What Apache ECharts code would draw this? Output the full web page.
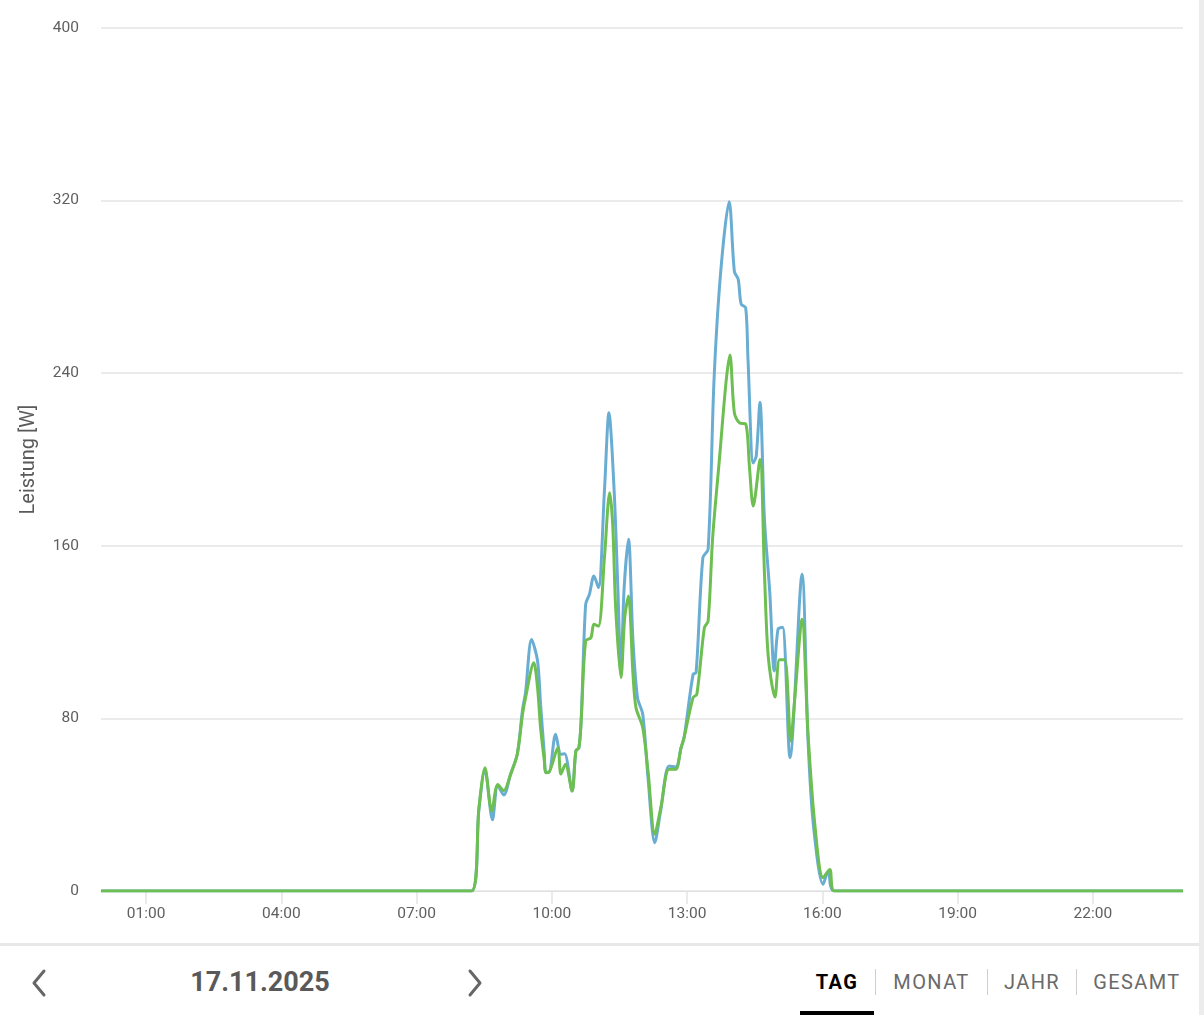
<!DOCTYPE html>
<html>
<head>
<meta charset="utf-8">
<script src="https://cdn.jsdelivr.net/npm/echarts@6/dist/echarts.min.js"></script>
<style>
  html, body { margin: 0; padding: 0; background: #fff; width: 1204px; height: 1015px; overflow: hidden; font-family: Roboto, "Noto Sans", sans-serif; }
  #chart { position: absolute; left: 0; top: 0; width: 1199px; height: 943px; }
  #sep { position: absolute; left: 0; top: 943px; width: 1199px; height: 3px; background: #e8e8e8; }
  #scroll { position: absolute; left: 1199px; top: 0; width: 5px; height: 1015px; background: #ececec; }
  .chev { position: absolute; top: 968px; width: 20px; height: 30px; }
  #date { position: absolute; left: 160px; width: 200px; top: 964px; text-align: center; font-size: 27px; font-weight: bold; color: #595959; line-height: 36px; }
  .tab { position: absolute; top: 968px; text-align: center; font-size: 20px; letter-spacing: 1.4px; color: #6a6a6a; line-height: 28px; }
  .tab.active { color: #000; font-weight: bold; }
  .vsep { position: absolute; top: 969px; width: 1px; height: 26px; background: #cfcfcf; }
  #under { position: absolute; left: 800px; top: 1011px; width: 74px; height: 4px; background: #000; }
</style>
</head>
<body>
<div id="chart"></div>
<div id="sep"></div>
<div id="scroll"></div>
<svg class="chev" style="left:30px" viewBox="0 0 20 30"><polyline points="14,3 4,15 14,27" fill="none" stroke="#666" stroke-width="3" stroke-linecap="round" stroke-linejoin="round"/></svg>
<div id="date">17.11.2025</div>
<svg class="chev" style="left:466px" viewBox="0 0 20 30"><polyline points="4,3 14,15 4,27" fill="none" stroke="#666" stroke-width="3" stroke-linecap="round" stroke-linejoin="round"/></svg>
<div class="tab active" style="left:800px;width:74px">TAG</div>
<div class="vsep" style="left:875px"></div>
<div class="tab" style="left:876px;width:111px">MONAT</div>
<div class="vsep" style="left:987px"></div>
<div class="tab" style="left:988px;width:88px">JAHR</div>
<div class="vsep" style="left:1076px"></div>
<div class="tab" style="left:1077px;width:120px">GESAMT</div>
<div id="under"></div>
<script>
// ---- data ----
const xTickLabels = ["01:00", "04:00", "07:00", "10:00", "13:00", "16:00", "19:00", "22:00"];
const yTicks = [0, 80, 160, 240, 320, 400];

const blueTimes = ["00:00","08:13","08:23","08:31","08:41","08:48","08:56","09:05","09:14","09:21","09:25","09:33","09:41","09:45","09:50","09:52","09:56","10:05","10:12","10:17","10:27","10:32","10:36","10:39","10:45","10:50","10:56","11:02","11:10","11:16","11:23","11:28","11:32","11:36","11:42","11:48","11:54","12:01","12:08","12:17","12:25","12:36","12:45","12:52","12:56","13:08","13:12","13:21","13:28","13:36","13:45","13:56","14:03","14:08","14:12","14:18","14:21","14:28","14:32","14:37","14:43","14:50","14:56","15:01","15:07","15:17","15:33","15:41","15:48","16:01","16:08","16:16","24:00"];
const blueValues = [0,0,38,56,33,49,44.5,54,63.4,84,92,116.6,106.6,86.6,63.4,55,55,72.6,63.4,63.6,46.4,64.9,66.4,78.8,132.9,137.5,146,140.6,185.4,221.7,185,139,100.5,139,163,116,89.6,81.9,52.5,22.4,37.5,57.9,57.5,66.4,71.1,100.4,101.2,154.5,158.4,238,288,319.5,287,283.6,272,270.3,247,198.4,201.6,226.5,172,138.7,102,121.3,122.2,61.8,146.8,69.5,30.9,3.1,9.3,0,0];

const greenTimes = ["00:00","08:13","08:23","08:31","08:40","08:48","08:56","09:05","09:14","09:21","09:25","09:36","09:41","09:45","09:50","09:52","09:56","10:08","10:12","10:18","10:27","10:32","10:36","10:39","10:45","10:52","10:56","11:02","11:10","11:17","11:21","11:25","11:32","11:37","11:42","11:48","11:52","12:01","12:08","12:17","12:25","12:36","12:45","12:52","12:56","13:08","13:13","13:23","13:28","13:34","13:43","13:52","13:57","14:03","14:10","14:18","14:23","14:28","14:37","14:43","14:48","14:57","15:03","15:10","15:18","15:23","15:33","15:41","15:50","16:01","16:10","16:16","24:00"];
const greenValues = [0,0,38.6,57.1,37,49.4,46.5,54,63.4,81.9,89.6,105.8,94.2,75.7,60.3,54.8,55,66.4,54.2,58.7,46.4,64.9,66.4,78.8,115.9,117.4,123.6,122.8,154.5,184.6,170,131,98.9,126.7,136.7,100.5,85,75.7,55.6,26.3,38.6,56.4,56.4,66.4,71.1,89.6,91.2,122,125.1,163.6,200,236.4,248.4,221.5,216.9,216.5,196.6,178.4,200,147,108.9,89.9,107.2,107.2,69.5,88,125.9,72.6,30.9,6.2,10,0,0];

// ---- helpers ----
const toMin = s => { const [h, m] = s.split(":").map(Number); return h * 60 + m; };
const pairs = (ts, vs) => ts.map((t, i) => [toMin(t), vs[i]]);
const tickMins = xTickLabels.map(toMin);

const chart = echarts.init(document.getElementById('chart'), null, { renderer: 'canvas' });
chart.setOption({
  animation: false,
  grid: { left: 101, right: 16, top: 28, bottom: 52 },
  xAxis: {
    type: 'value', min: 0, max: 1440,
    axisLine: { show: true, lineStyle: { color: '#e0e0e0' } },
    axisTick: { show: true, customValues: tickMins, length: 13, lineStyle: { color: '#e3e3e3', width: 1.5 } },
    axisLabel: { customValues: tickMins, color: '#5f5f5f', fontSize: 15.5, fontFamily: 'Roboto', margin: 15,
      formatter: v => xTickLabels[tickMins.indexOf(v)] || '' },
    splitLine: { show: false }
  },
  yAxis: {
    type: 'value', min: 0, max: 400, interval: 80,
    name: 'Leistung [W]', nameLocation: 'middle', nameGap: 62, nameRotate: 90,
    nameTextStyle: { color: '#5a5a5a', fontSize: 20, fontFamily: 'Roboto' },
    axisLine: { show: false }, axisTick: { show: false },
    axisLabel: { color: '#5f5f5f', fontSize: 15.5, fontFamily: 'Roboto', margin: 22,
      formatter: v => yTicks.includes(v) ? String(v) : '' },
    splitLine: { lineStyle: { color: '#e4e4e4', width: 1.5 } }
  },
  series: [
    { type: 'line', data: pairs(blueTimes, blueValues), showSymbol: false, smooth: 0.3,
      lineStyle: { color: '#6aadd3', width: 3 }, itemStyle: { color: '#6aadd3' } },
    { type: 'line', data: pairs(greenTimes, greenValues), showSymbol: false, smooth: 0.3,
      lineStyle: { color: '#6cbf50', width: 3 }, itemStyle: { color: '#6cbf50' } }
  ]
});
</script>
</body>
</html>
